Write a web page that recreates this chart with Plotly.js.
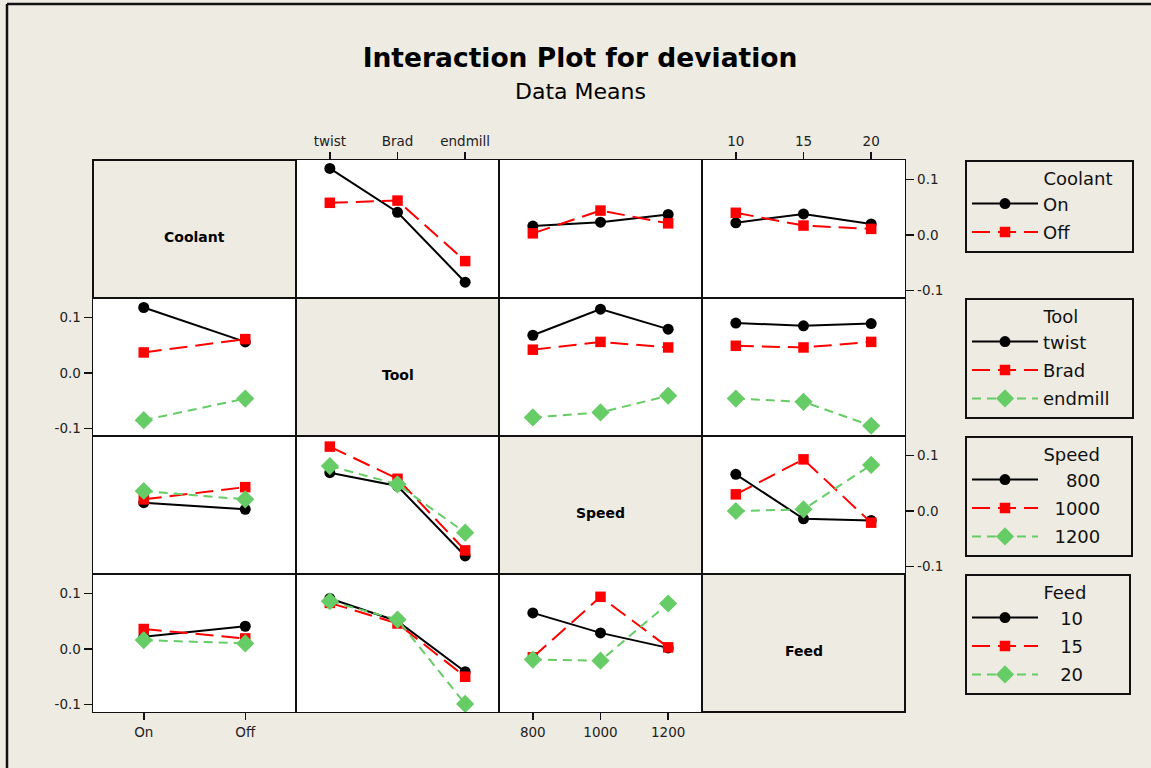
<!DOCTYPE html>
<html><head><meta charset="utf-8">
<script src="https://cdn.plot.ly/plotly-3.0.1.min.js"></script>
<style>html,body{margin:0;padding:0;background:#EEEBE2;}#chart{width:1151px;height:768px;}</style>
</head><body><div id="chart"></div>
<script>
// ---- Factors and levels ----
const factorNames = ['Coolant', 'Tool', 'Speed', 'Feed'];
const coolantLevels = ['On', 'Off'];
const toolLevels = ['twist', 'Brad', 'endmill'];
const speedLevels = ['800', '1000', '1200'];
const feedLevels = ['10', '15', '20'];
const yTickVals = [-0.1, 0.0, 0.1];
const yTickText = ['-0.1', '0.0', '0.1'];

// ---- Data means (rows = series levels of the row factor, columns = x levels) ----
// Row Coolant
const coolantByTool  = [[0.120, 0.041, -0.085], [0.058, 0.062, -0.047]];
const coolantBySpeed = [[0.016, 0.023, 0.037], [0.003, 0.044, 0.021]];
const coolantByFeed  = [[0.022, 0.038, 0.020], [0.040, 0.017, 0.011]];
// Row Tool
const toolByCoolant = [[0.118, 0.056], [0.037, 0.061], [-0.085, -0.046]];
const toolBySpeed   = [[0.068, 0.115, 0.079], [0.042, 0.056, 0.046], [-0.080, -0.071, -0.041]];
const toolByFeed    = [[0.090, 0.085, 0.089], [0.049, 0.046, 0.056], [-0.046, -0.052, -0.095]];
// Row Speed
const speedByCoolant = [[0.015, 0.003], [0.021, 0.043], [0.036, 0.021]];
const speedByTool    = [[0.069, 0.045, -0.081], [0.116, 0.058, -0.071], [0.081, 0.048, -0.039]];
const speedByFeed    = [[0.066, -0.014, -0.017], [0.030, 0.093, -0.021], [0.000, 0.003, 0.083]];
// Row Feed
const feedByCoolant = [[0.022, 0.041], [0.036, 0.019], [0.016, 0.010]];
const feedByTool    = [[0.091, 0.050, -0.041], [0.083, 0.046, -0.050], [0.086, 0.053, -0.099]];
const feedBySpeed   = [[0.065, 0.029, 0.002], [-0.015, 0.094, 0.003], [-0.019, -0.021, 0.082]];

const levels = [coolantLevels, toolLevels, speedLevels, feedLevels];
const cellMeans = {
  '0,1': coolantByTool, '0,2': coolantBySpeed, '0,3': coolantByFeed,
  '1,0': toolByCoolant, '1,2': toolBySpeed, '1,3': toolByFeed,
  '2,0': speedByCoolant, '2,1': speedByTool, '2,3': speedByFeed,
  '3,0': feedByCoolant, '3,1': feedByTool, '3,2': feedBySpeed
};

// ---- Styles / geometry ----
const BG = '#EEEBE2';
const W = 1151, H = 768, GL = 93, CW = 203, GT = 160, CH = 138;
const FONT = 'DejaVu Sans';
const styles = [
  {color: '#000000', symbol: 'circle', size: 11, dash: 'solid'},
  {color: '#FF0000', symbol: 'square', size: 10.5, dash: '18px,8px'},
  {color: '#66CC66', symbol: 'diamond', size: 14, dash: '9px,6px'}
];
const NB = '\u00a0';
const legendTop = [160, 298, 436, 574];
const LEG_FS = 18;

// text measuring for legend padding
const cvs = document.createElement('canvas').getContext('2d');
cvs.font = LEG_FS + 'px "' + FONT + '"';
function tw(s) { return cvs.measureText(s).width; }
const nbW = tw(NB) || 5.7;
function padTo(px) { return NB.repeat(Math.max(0, Math.round(px / nbW))); }

function xdom(c) { return [(GL + c * CW) / W, (GL + (c + 1) * CW) / W]; }
function ydom(r) { return [1 - (GT + (r + 1) * CH) / H, 1 - (GT + r * CH) / H]; }

const traces = [];
const layout = {
  width: W, height: H,
  margin: {l: 0, r: 0, t: 0, b: 0},
  paper_bgcolor: BG, plot_bgcolor: '#FFFFFF',
  font: {family: FONT, color: '#111'},
  title: {
    text: '<b>Interaction Plot for deviation</b>',
    font: {family: FONT, size: 26.5, color: '#000'},
    x: 580 / W, xanchor: 'center', y: 1 - 58 / H, yanchor: 'middle'
  },
  annotations: [
    {text: 'Data Means', xref: 'paper', yref: 'paper', x: 580 / W, y: 1 - 92 / H,
     xanchor: 'center', yanchor: 'middle', showarrow: false,
     font: {family: FONT, size: 22, color: '#000'}}
  ],
  shapes: [
    {type: 'line', xref: 'paper', yref: 'paper', x0: 7 / W, x1: 7 / W, y0: 0, y1: 1 - 4 / H,
     line: {color: '#111', width: 2.5}},
    {type: 'line', xref: 'paper', yref: 'paper', x0: 7 / W, x1: 1, y0: 1 - 4 / H, y1: 1 - 4 / H,
     line: {color: '#111', width: 2.5}}
  ],
  showlegend: true
};

// legends
for (let r = 0; r < 4; r++) {
  const id = r === 0 ? 'legend' : 'legend' + (r + 1);
  const name = factorNames[r];
  const lead = padTo(74);
  const trail = padTo(Math.max(0, 158 - 74 - tw(name)));
  layout[id] = {
    x: 965 / W, xanchor: 'left', y: 1 - legendTop[r] / H, yanchor: 'top',
    bgcolor: BG, bordercolor: '#111', borderwidth: 2,
    font: {family: FONT, size: LEG_FS, color: '#111'},
    title: {text: lead + name + trail, font: {family: FONT, size: LEG_FS, color: '#111'}},
    traceorder: 'grouped', tracegroupgap: 2, itemwidth: 66
  };
}

// diagonal cells
for (let d = 0; d < 4; d++) {
  const xd = xdom(d), yd = ydom(d);
  layout.shapes.push({type: 'rect', xref: 'paper', yref: 'paper', x0: xd[0], x1: xd[1], y0: yd[0], y1: yd[1],
    fillcolor: BG, line: {color: '#111', width: 2}, layer: 'above'});
  layout.annotations.push({text: '<b>' + factorNames[d] + '</b>', xref: 'paper', yref: 'paper',
    x: (xd[0] + xd[1]) / 2, y: (yd[0] + yd[1]) / 2, yshift: -8, xanchor: 'center', yanchor: 'middle',
    showarrow: false, font: {family: FONT, size: 14, color: '#000'}});
}

let k = 0;
for (let r = 0; r < 4; r++) {
  const lvRow = levels[r];
  const rightAlign = r >= 2;
  for (let c = 0; c < 4; c++) {
    if (r === c) continue;
    k++;
    const sfx = k === 1 ? '' : String(k);
    const xLv = levels[c];
    const showX = (r === 0 && (c === 1 || c === 3)) || (r === 3 && (c === 0 || c === 2));
    const showY = (c === 0 && (r === 1 || r === 3)) || (c === 3 && (r === 0 || r === 2));
    layout['xaxis' + sfx] = {
      domain: xdom(c), anchor: 'y' + sfx, type: 'category',
      categoryorder: 'array', categoryarray: xLv,
      range: [-0.5, xLv.length - 0.5],
      showline: true, mirror: true, linecolor: '#111', linewidth: 1.4,
      showgrid: false, zeroline: false,
      ticks: showX ? 'outside' : '', ticklen: 7, tickwidth: 1.5, tickcolor: '#111',
      showticklabels: showX, side: r === 0 ? 'top' : 'bottom',
      tickfont: {family: FONT, size: 13.5, color: '#222'}, fixedrange: true
    };
    layout['yaxis' + sfx] = {
      domain: ydom(r), anchor: 'x' + sfx,
      range: [-0.1135, 0.1351],
      showline: true, mirror: true, linecolor: '#111', linewidth: 1.4,
      showgrid: false, zeroline: false,
      tickvals: yTickVals, ticktext: yTickText,
      ticks: showY ? 'outside' : '', ticklen: 8, tickwidth: 1.5, tickcolor: '#111',
      showticklabels: showY, side: c === 3 ? 'right' : 'left',
      tickfont: {family: FONT, size: 13.5, color: '#222'}, fixedrange: true
    };
    const data = cellMeans[r + ',' + c];
    const legendCell = r === 0 ? 1 : 0;
    const titleRight = tw(factorNames[r]);
    data.forEach((vals, s) => {
      const st = styles[s];
      const label = rightAlign ? padTo(titleRight - tw(lvRow[s]) - 2) + lvRow[s] : lvRow[s];
      traces.push({
        type: 'scatter', mode: 'lines+markers',
        x: xLv, y: vals, xaxis: 'x' + sfx, yaxis: 'y' + sfx,
        name: label,
        legend: r === 0 ? 'legend' : 'legend' + (r + 1),
        legendgroup: 'f' + r + 's' + s,
        showlegend: c === legendCell,
        line: {color: st.color, width: 2, dash: st.dash},
        marker: {color: st.color, symbol: st.symbol, size: st.size},
        hoverinfo: 'x+y+name'
      });
    });
  }
}

Plotly.newPlot('chart', traces, layout, {displayModeBar: false, staticPlot: true});
</script>
</body></html>
